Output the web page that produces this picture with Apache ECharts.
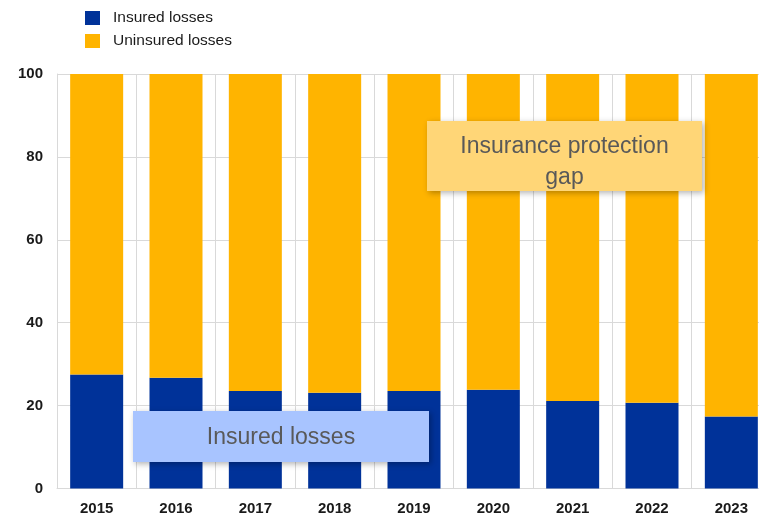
<!DOCTYPE html>
<html><head><meta charset="utf-8">
<script src="https://cdn.jsdelivr.net/npm/echarts@6/dist/echarts.min.js"></script>
<style>html,body{margin:0;padding:0;background:#fff}#c{width:759px;height:514px}</style>
</head><body><div id="c"></div>
<script>
const categories = ['2015','2016','2017','2018','2019','2020','2021','2022','2023'];
const insured = [27.5, 26.7, 23.5, 23.1, 23.5, 23.8, 21.1, 20.7, 17.4];
const uninsured = insured.map(v => +(100 - v).toFixed(1));
const yTicks = [0, 20, 40, 60, 80, 100];
const seriesNames = ['Insured losses', 'Uninsured losses'];
const chart = echarts.init(document.getElementById('c'));
const font = 'Liberation Sans, Arial, sans-serif';
chart.setOption({
  animation: false,
  textStyle: {fontFamily: font},
  legend: {
    left: 80, top: 5, orient: 'vertical', itemWidth: 15, itemHeight: 14, itemGap: 7,
    icon: 'rect',
    textStyle: {fontSize: 15.5, color: '#1a1a1a', fontFamily: font, padding: [0,0,0,8], lineHeight: 14},
    data: seriesNames
  },
  grid: {left: 57, top: 74, width: 714, height: 414.5, containLabel: false, outerBoundsMode: 'none'},
  xAxis: {
    type: 'category', data: categories, boundaryGap: true,
    axisLine: {lineStyle: {color: '#d9d9d9'}},
    axisTick: {show: false},
    axisLabel: {fontSize: 15, fontWeight: 'bold', color: '#1a1a1a', margin: 13, fontFamily: font},
    splitLine: {show: true, interval: 0, lineStyle: {color: '#d9d9d9'}}
  },
  yAxis: {
    type: 'value', min: 0, max: 100, interval: 20,
    axisLine: {show: true, lineStyle: {color: '#d9d9d9'}},
    axisTick: {show: false},
    axisLabel: {fontSize: 15, fontWeight: 'bold', color: '#1a1a1a', margin: 14, fontFamily: font,
      formatter: v => yTicks.includes(v) ? String(v) : ''},
    splitLine: {lineStyle: {color: '#d9d9d9'}}
  },
  series: [
    {name: seriesNames[0], type: 'bar', stack: 'a', data: insured, barWidth: 53,
     itemStyle: {color: '#003299'}},
    {name: seriesNames[1], type: 'bar', stack: 'a', data: uninsured, barWidth: 53,
     itemStyle: {color: '#FFB400'}}
  ],
  graphic: [
    {type: 'group', left: 427, top: 121, z: 100, children: [
      {type: 'rect', z: 100, shape: {x: 0, y: 0, width: 275, height: 70},
       style: {fill: '#FFD677', shadowBlur: 6, shadowColor: 'rgba(0,0,0,0.3)', shadowOffsetX: 2, shadowOffsetY: 2}},
      {type: 'text', z: 101, style: {x: 137.5, y: 41, text: 'Insurance protection\ngap', align: 'center', verticalAlign: 'middle',
       font: '23px ' + font, fill: '#595959', lineHeight: 31}}
    ]},
    {type: 'group', left: 133, top: 411, z: 100, children: [
      {type: 'rect', z: 100, shape: {x: 0, y: 0, width: 296, height: 51},
       style: {fill: '#A8C4FF', shadowBlur: 6, shadowColor: 'rgba(0,0,0,0.3)', shadowOffsetX: 2, shadowOffsetY: 2}},
      {type: 'text', z: 101, style: {x: 148, y: 27, text: 'Insured losses', align: 'center', verticalAlign: 'middle',
       font: '23px ' + font, fill: '#595959'}}
    ]}
  ]
});
</script></body></html>
